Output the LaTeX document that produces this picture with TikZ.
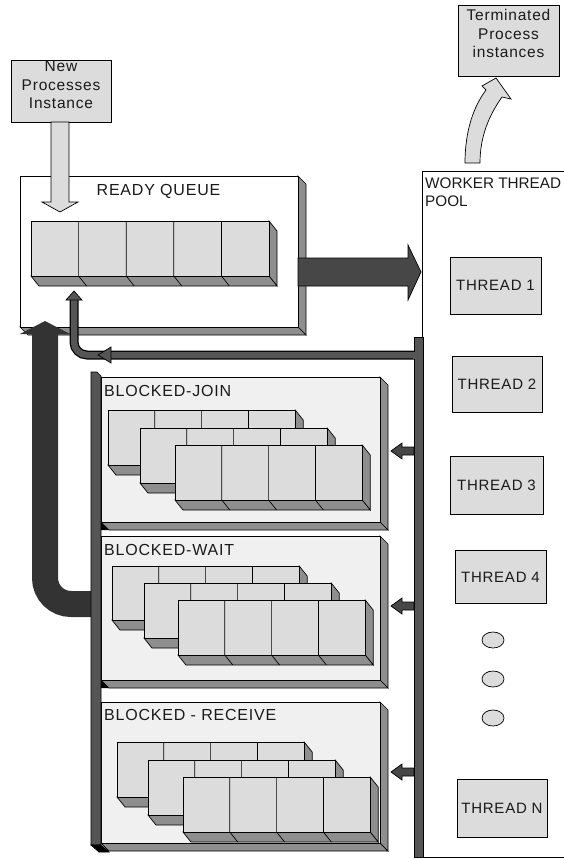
\documentclass[tikz,border=0pt]{standalone}
\usepackage{fontspec}
\setmainfont{Liberation Sans}[LetterSpace=5]
\newfontfamily\tightfont{Liberation Sans}
\usetikzlibrary{shapes.geometric}
\definecolor{boxgray}{HTML}{DCDCDC}
\definecolor{sidegray}{HTML}{8E8E8E}
\definecolor{panelfill}{HTML}{F0F0F0}
\definecolor{darkarrow}{HTML}{474747}
\definecolor{vdark}{HTML}{333333}
\definecolor{bargray}{HTML}{555555}
\definecolor{txtcol}{HTML}{1A1A1A}
\tikzset{
  ol/.style={draw=black, line width=0.7pt, line join=miter},
  lightbox/.style={ol, fill=boxgray, rectangle, inner sep=0pt},
  lbl/.style={font=\fontsize{16}{18}\selectfont, text=txtcol, inner sep=0pt},
  smalltxt/.style={font=\fontsize{15.5}{18.3}\selectfont, text=txtcol, inner sep=0pt, align=center},
  thr/.style={lightbox, font=\fontsize{15}{17}\selectfont, text=txtcol},
  dotbox/.style={ellipse, ol, fill=boxgray, minimum width=22pt, minimum height=16pt, inner sep=0pt},
}
% 3D row of queue cells: x0 y0 ncells cellwidth height
\newcommand\qrow[5]{%
  \pgfmathsetmacro\qxe{#1+#3*#4}%
  \pgfmathsetmacro\qye{#2+#5}%
  \filldraw[ol, fill=sidegray] (\qxe,#2) -- (\qxe+8,#2+10) -- (\qxe+8,\qye+10) -- (\qxe,\qye) -- cycle;
  \filldraw[ol, fill=sidegray] (#1,\qye) -- (\qxe,\qye) -- (\qxe+8,\qye+10) -- (#1+8,\qye+10) -- cycle;
  \filldraw[ol, fill=boxgray] (#1,#2) rectangle (\qxe,\qye);
  \pgfmathtruncatemacro\qlast{#3-1}%
  \foreach \k in {1,...,\qlast}{\draw[ol] (#1+\k*#4,#2) -- (#1+\k*#4,\qye) -- (#1+\k*#4+8,\qye+10);}
}
% 3D panel: x0 y0 x1 y1 fill
\newcommand\panelbox[5]{%
  \filldraw[ol, fill=sidegray] (#3,#2) -- (#3+8,#2+8) -- (#3+8,#4+8) -- (#3,#4) -- cycle;
  \filldraw[ol, fill=sidegray] (#1,#4) -- (#3,#4) -- (#3+8,#4+8) -- (#1+8,#4+8) -- cycle;
  \filldraw[ol, fill=#5] (#1,#2) rectangle (#3,#4);
}
\begin{document}
\begin{tikzpicture}[x=1pt,y=-1pt]
\useasboundingbox (0,0) rectangle (563,859);
\fill[white] (0,0) rectangle (563,859);

% worker thread pool
\filldraw[ol, fill=white] (570,171) -- (422,171) -- (422,857) -- (570,857);
\node[lbl, anchor=west, font=\tightfont\fontsize{15.3}{18}\selectfont] (wtp1) at (425,183) {WORKER THREAD};
\node[lbl, anchor=west, font=\tightfont\fontsize{15.3}{18}\selectfont] (wtp2) at (425,201) {POOL};

% ready queue
\panelbox{20}{176}{298}{327}{white}
\node[lbl] (rqlabel) at (158.5,191) {READY QUEUE};
\qrow{31}{221}{5}{47.6}{55}

% dark arrow ready -> pool
\filldraw[ol, fill=darkarrow] (298,258) -- (408,258) -- (408,245) -- (421,272) -- (408,300) -- (408,286) -- (298,286) -- cycle;

% new processes box and arrow
\node[lightbox, minimum width=100pt, minimum height=62pt] (newbox) at (61,91) {};
\node[smalltxt] (newtxt) at (61,85) {New\\Processes\\Instance};
\filldraw[ol, fill=boxgray] (51,122) -- (51,202) -- (42,202) -- (60,212) -- (78,202) -- (69,202) -- (69,122) -- cycle;

% terminated box and curved arrow
\node[lightbox, minimum width=101pt, minimum height=71pt] (termbox) at (508.5,40.5) {};
\node[smalltxt] (termtxt) at (508.5,33.5) {Terminated\\Process\\instances};
\filldraw[ol, fill=boxgray] (465,163) .. controls (465,130) and (474,106) .. (486,90) -- (482,86) -- (496,78) -- (511,99) -- (502,97) .. controls (490,114) and (480,135) .. (480,163) -- cycle;

% big U arrow (blocked -> ready)
\draw[vdark, line width=26pt, rounded corners=26pt] (95,604) -- (45,604) -- (45,333);
\fill[vdark] (20,334) -- (45,321) -- (70,334) -- cycle;

% blocked panels
\panelbox{101}{377}{380}{522}{panelfill}
\panelbox{101}{536}{380}{680}{panelfill}
\panelbox{101}{702}{380}{843}{panelfill}
% left bar
\filldraw[ol, fill=bargray] (91,372) -- (97,372) -- (101,376) -- (101,845) -- (91,845) -- cycle;
\filldraw[ol, fill=black] (91,845) -- (101,845) -- (109,852) -- (99,852) -- cycle;
\fill[black] (101,522.5) -- (109,530) -- (101,530) -- cycle;
\fill[black] (101,680.5) -- (109,688) -- (101,688) -- cycle;

\node[lbl, anchor=west] (bj) at (104,391) {BLOCKED-JOIN};
\node[lbl, anchor=west] (bw) at (104,550) {BLOCKED-WAIT};
\node[lbl, anchor=west] (br) at (104,715) {BLOCKED - RECEIVE};

\qrow{108}{410}{4}{46.8}{55}
\qrow{140}{428}{4}{46.8}{55}
\qrow{175}{445}{4}{46.8}{55}

\qrow{112}{566}{4}{46.8}{54}
\qrow{144}{583}{4}{46.8}{55}
\qrow{178}{600}{4}{46.8}{55}

\qrow{117}{742}{4}{46.8}{55}
\qrow{148}{760}{4}{46.8}{55}
\qrow{183}{777}{4}{46.8}{55}

% return line (pool -> ready)
\draw[black, line width=9pt, rounded corners=13pt] (416,355) -- (74,355) -- (74,299);
\draw[bargray, line width=6.5pt, rounded corners=13pt] (416,355) -- (74,355) -- (74,299);
\filldraw[ol, fill=bargray] (66,300) -- (74,291) -- (82,300) -- cycle;
\filldraw[ol, fill=bargray] (111,347) -- (98,355) -- (111,363) -- cycle;

% right bar
\filldraw[ol, fill=bargray] (414,337) rectangle (423,857);
\fill[bargray] (413,351.5) rectangle (416,358.5);

% small arrows into blocked panels
\foreach \yy in {451,606,772}{
  \filldraw[ol, fill=darkarrow] (414,\yy-4) -- (402,\yy-4) -- (402,\yy-8) -- (391,\yy) -- (402,\yy+8) -- (402,\yy+4) -- (414,\yy+4) -- cycle;
}

% threads
\node[thr, minimum width=91pt, minimum height=57pt] (t1) at (495.5,285.5) {THREAD 1};
\node[thr, minimum width=90pt, minimum height=56pt] (t2) at (497,384) {THREAD 2};
\node[thr, minimum width=93pt, minimum height=58pt] (t3) at (496.5,485) {THREAD 3};
\node[thr, minimum width=91pt, minimum height=53pt] (t4) at (500.5,577) {THREAD 4};
\node[dotbox] (d1) at (493,640) {};
\node[dotbox] (d2) at (493,679) {};
\node[dotbox] (d3) at (493,718) {};
\node[thr, minimum width=90pt, minimum height=58pt] (tn) at (502,808) {THREAD N};
\end{tikzpicture}
\end{document}
